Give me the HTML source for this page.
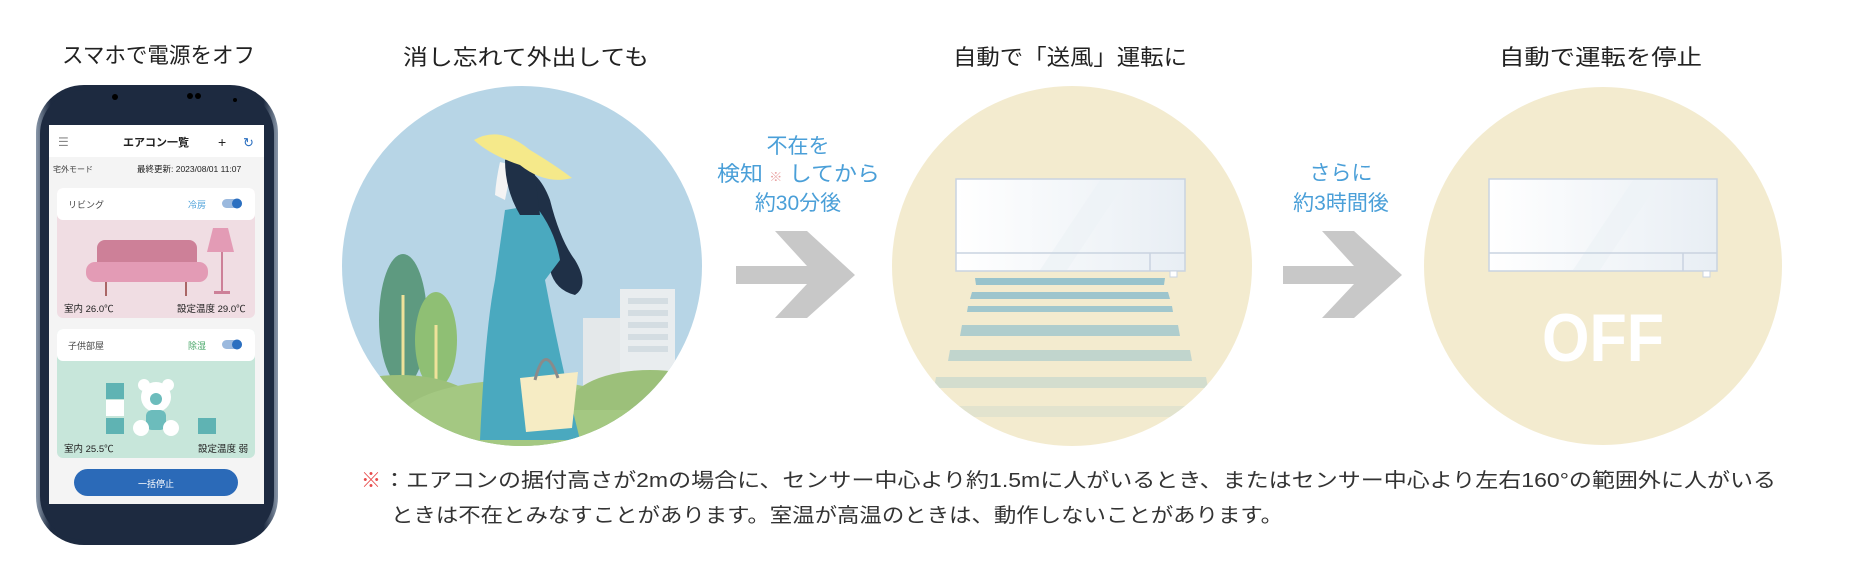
<!DOCTYPE html>
<html><head><meta charset="utf-8"><style>
html,body{margin:0;padding:0;background:#fff;width:1858px;height:566px;overflow:hidden}
svg text{font-family:"Liberation Sans","Noto Sans CJK JP",sans-serif}
</style></head><body>
<svg width="1858" height="566" viewBox="0 0 1858 566" xmlns="http://www.w3.org/2000/svg">
<defs>
<clipPath id="c1"><circle cx="522" cy="266" r="180"/></clipPath>
<clipPath id="c2"><circle cx="1072" cy="266" r="180"/></clipPath>
<linearGradient id="gl" x1="0" y1="0" x2="1" y2="0"><stop offset="0" stop-color="#fff"/><stop offset="1" stop-color="#e8eef4"/></linearGradient>
<linearGradient id="ph" x1="0" y1="0" x2="1" y2="0"><stop offset="0" stop-color="#8a98aa"/><stop offset="0.06" stop-color="#1d2a40"/><stop offset="0.94" stop-color="#1d2a40"/><stop offset="1" stop-color="#8a98aa"/></linearGradient>
</defs>

<!-- titles -->
<text x="62" y="63" font-size="22" fill="#222" textLength="193" lengthAdjust="spacingAndGlyphs">スマホで電源をオフ</text>
<text x="403" y="65" font-size="22" fill="#222" textLength="246" lengthAdjust="spacingAndGlyphs">消し忘れて外出しても</text>
<text x="953" y="65" font-size="22" fill="#222" textLength="234" lengthAdjust="spacingAndGlyphs">自動で「送風」運転に</text>
<text x="1499" y="65" font-size="22" fill="#222" textLength="203" lengthAdjust="spacingAndGlyphs">自動で運転を停止</text>

<!-- phone -->
<rect x="36" y="85" width="242" height="460" rx="48" fill="url(#ph)"/>
<rect x="40" y="90" width="234" height="450" rx="44" fill="#1d2a40"/>
<circle cx="115" cy="97" r="3" fill="#000"/><circle cx="190" cy="96" r="3" fill="#000"/><circle cx="198" cy="96" r="3" fill="#000"/><circle cx="235" cy="100" r="2" fill="#000"/>
<rect x="49" y="125" width="215" height="379" fill="#f4f4f4"/>
<rect x="49" y="125" width="215" height="32" fill="#fff"/>
<text x="58" y="146" font-size="12" fill="#888">☰</text>
<text x="123" y="146" font-size="11" font-weight="bold" fill="#222">エアコン一覧</text>
<text x="218" y="147" font-size="14" fill="#222">+</text>
<text x="243" y="147" font-size="13" fill="#2b6fc0">↻</text>
<text x="53" y="172" font-size="8" fill="#444">宅外モード</text>
<text x="137" y="172" font-size="8.5" fill="#222">最終更新: 2023/08/01 11:07</text>
<rect x="57" y="188" width="198" height="130" rx="6" fill="#f0dde3"/>
<rect x="57" y="188" width="198" height="32" rx="6" fill="#fff"/>
<text x="68" y="208" font-size="9" fill="#444">リビング</text>
<text x="188" y="208" font-size="9" fill="#4a9fd8">冷房</text>
<rect x="222" y="199" width="20" height="9" rx="4.5" fill="#9bb9de"/><circle cx="237" cy="203.5" r="5" fill="#2b6fc0"/>
<rect x="97" y="240" width="100" height="38" rx="8" fill="#cd8098"/>
<rect x="86" y="262" width="122" height="20" rx="9" fill="#e39bb5"/>
<line x1="106" y1="282" x2="106" y2="296" stroke="#a66" stroke-width="2"/><line x1="186" y1="282" x2="186" y2="296" stroke="#a66" stroke-width="2"/>
<polygon points="213,228 228,228 234,252 207,252" fill="#e39bb5"/><line x1="222" y1="252" x2="222" y2="292" stroke="#cd8098" stroke-width="2"/><rect x="214" y="291" width="16" height="3" fill="#cd8098"/>
<text x="64" y="312" font-size="9.5" fill="#222">室内 26.0℃</text>
<text x="177" y="312" font-size="9.5" fill="#222">設定温度 29.0℃</text>
<rect x="57" y="329" width="198" height="129" rx="6" fill="#c7e6da"/>
<rect x="57" y="329" width="198" height="32" rx="6" fill="#fff"/>
<text x="68" y="349" font-size="9" fill="#444">子供部屋</text>
<text x="188" y="349" font-size="9" fill="#4aa86a">除湿</text>
<rect x="222" y="340" width="20" height="9" rx="4.5" fill="#9bb9de"/><circle cx="237" cy="344.5" r="5" fill="#2b6fc0"/>
<rect x="106" y="383" width="18" height="16" fill="#5fb3b3"/><rect x="106" y="400" width="18" height="16" fill="#fff"/><rect x="106" y="418" width="18" height="16" fill="#5fb3b3"/>
<rect x="198" y="418" width="18" height="16" fill="#5fb3b3"/>
<circle cx="156" cy="397" r="15" fill="#fff"/><circle cx="144" cy="385" r="6" fill="#fff"/><circle cx="168" cy="385" r="6" fill="#fff"/>
<circle cx="156" cy="399" r="6" fill="#6cbcbc"/><rect x="146" y="410" width="20" height="20" rx="6" fill="#6cbcbc"/>
<circle cx="141" cy="428" r="8" fill="#fff"/><circle cx="171" cy="428" r="8" fill="#fff"/>
<text x="64" y="452" font-size="9.5" fill="#222">室内 25.5℃</text>
<text x="198" y="452" font-size="9.5" fill="#222">設定温度 弱</text>
<rect x="74" y="469" width="164" height="27" rx="13.5" fill="#2b6ab8"/>
<text x="156" y="487" font-size="9" fill="#fff" text-anchor="middle">一括停止</text>

<!-- circle 1 -->
<g clip-path="url(#c1)">
<rect x="342" y="86" width="360" height="362" fill="#b7d5e6"/>
<rect x="583" y="318" width="40" height="70" fill="#e4e8ea"/>
<rect x="620" y="289" width="55" height="100" fill="#e9edef"/>
<g fill="#d4dde2"><rect x="628" y="298" width="40" height="6"/><rect x="628" y="310" width="40" height="6"/><rect x="628" y="322" width="40" height="6"/><rect x="628" y="334" width="40" height="6"/><rect x="628" y="346" width="40" height="6"/></g>
<ellipse cx="403" cy="320" rx="24" ry="66" fill="#5e9a80"/>
<ellipse cx="436" cy="340" rx="21" ry="48" fill="#8fbf74"/>
<line x1="403" y1="295" x2="403" y2="390" stroke="#efe29a" stroke-width="3"/>
<line x1="436" y1="325" x2="436" y2="390" stroke="#efe29a" stroke-width="3"/>
<ellipse cx="400" cy="410" rx="80" ry="35" fill="#9cc07a"/>
<ellipse cx="520" cy="420" rx="120" ry="40" fill="#a4c882"/>
<ellipse cx="650" cy="405" rx="80" ry="35" fill="#9cc07a"/>
<rect x="342" y="410" width="360" height="40" fill="#a4c882"/>
<path d="M505 170 Q535 160 550 200 Q560 240 575 260 Q590 285 575 295 Q555 290 550 270 L520 210 Z" fill="#1f3047"/>
<path d="M505 210 L535 205 Q555 230 560 260 L545 280 Q560 360 580 440 L480 440 Q485 330 495 280 Z" fill="#4aa9bf"/>
<path d="M500 162 Q496 180 495 195 L505 200 L512 165 Z" fill="#f4f4f4"/>
<path d="M505 160 Q520 150 535 175 L540 215 L520 215 Q505 190 505 160 Z" fill="#1f3047"/>
<path d="M474 140 Q500 125 530 150 Q555 165 572 178 Q545 185 520 165 Q490 155 474 140 Z" fill="#f5e98a"/>
<path d="M520 378 L578 372 L572 428 L526 432 Z" fill="#f6ecc4"/>
<path d="M535 380 Q545 340 558 378" fill="none" stroke="#8a8a8a" stroke-width="3"/>
</g>

<!-- arrows -->
<g fill="#c8c8c8">
<polygon points="736,266 807,266 775,231 807,231 855,275 807,318 775,318 807,284 736,284"/>
<polygon points="1283,266 1354,266 1322,231 1354,231 1402,275 1354,318 1322,318 1354,284 1283,284"/>
</g>
<text x="798" y="153" font-size="21" fill="#4a9fd8" text-anchor="middle">不在を</text>
<text x="717" y="181" font-size="21" fill="#4a9fd8" textLength="163" lengthAdjust="spacingAndGlyphs">検知 <tspan fill="#e8a0a0" font-size="12">※</tspan> してから</text>
<text x="798" y="210" font-size="21" fill="#4a9fd8" text-anchor="middle">約30分後</text>
<text x="1341" y="180" font-size="21" fill="#4a9fd8" text-anchor="middle">さらに</text>
<text x="1341" y="210" font-size="21" fill="#4a9fd8" text-anchor="middle">約3時間後</text>

<!-- circle 2 -->
<circle cx="1072" cy="266" r="180" fill="#f3ebcf"/>
<g clip-path="url(#c2)">
<g fill="#98c3cc">
<polygon points="975,278 1165,278 1164,285 976,285"/>
<polygon points="972,292 1168,292 1170,299 970,299" opacity="0.95"/>
<polygon points="968,306 1172,306 1173,312 967,312" opacity="0.9"/>
<polygon points="962,325 1178,325 1180,336 960,336" opacity="0.75"/>
<polygon points="950,350 1190,350 1192,361 948,361" opacity="0.55"/>
<polygon points="936,377 1206,377 1208,388 934,388" opacity="0.35"/>
<polygon points="920,406 1222,406 1224,417 918,417" opacity="0.18"/>
</g>
</g>
<rect x="956" y="179" width="229" height="92" fill="url(#gl)" stroke="#c9d3e0" stroke-width="1.5"/>
<polygon points="1100,180 1127,180 1067,270 1040,270" fill="#eef2f6" opacity="0.8"/>
<line x1="956" y1="253" x2="1185" y2="253" stroke="#c9d3e0" stroke-width="1.5"/>
<line x1="1150" y1="253" x2="1150" y2="271" stroke="#c9d3e0" stroke-width="1.5"/>
<rect x="1170" y="271" width="7" height="6" fill="#fff" stroke="#c9d3e0"/>

<!-- circle 3 -->
<circle cx="1603" cy="266" r="179" fill="#f3ebcf"/>
<rect x="1489" y="179" width="228" height="92" fill="url(#gl)" stroke="#c9d3e0" stroke-width="1.5"/>
<polygon points="1633,180 1660,180 1600,270 1573,270" fill="#eef2f6" opacity="0.8"/>
<line x1="1489" y1="253" x2="1717" y2="253" stroke="#c9d3e0" stroke-width="1.5"/>
<line x1="1683" y1="253" x2="1683" y2="271" stroke="#c9d3e0" stroke-width="1.5"/>
<rect x="1703" y="271" width="7" height="6" fill="#fff" stroke="#c9d3e0"/>
<text x="1542" y="361" font-size="68" font-weight="bold" fill="#fff" textLength="122" lengthAdjust="spacingAndGlyphs">OFF</text>

<!-- footnote -->
<text x="361" y="487" font-size="20" fill="#e84b4b">※</text>
<text x="383" y="487" font-size="20" fill="#333" textLength="1393" lengthAdjust="spacingAndGlyphs">：エアコンの据付高さが2mの場合に、センサー中心より約1.5mに人がいるとき、またはセンサー中心より左右160°の範囲外に人がいる</text>
<text x="391" y="522" font-size="20" fill="#333" textLength="892" lengthAdjust="spacingAndGlyphs">ときは不在とみなすことがあります。室温が高温のときは、動作しないことがあります。</text>
</svg>
</body></html>
